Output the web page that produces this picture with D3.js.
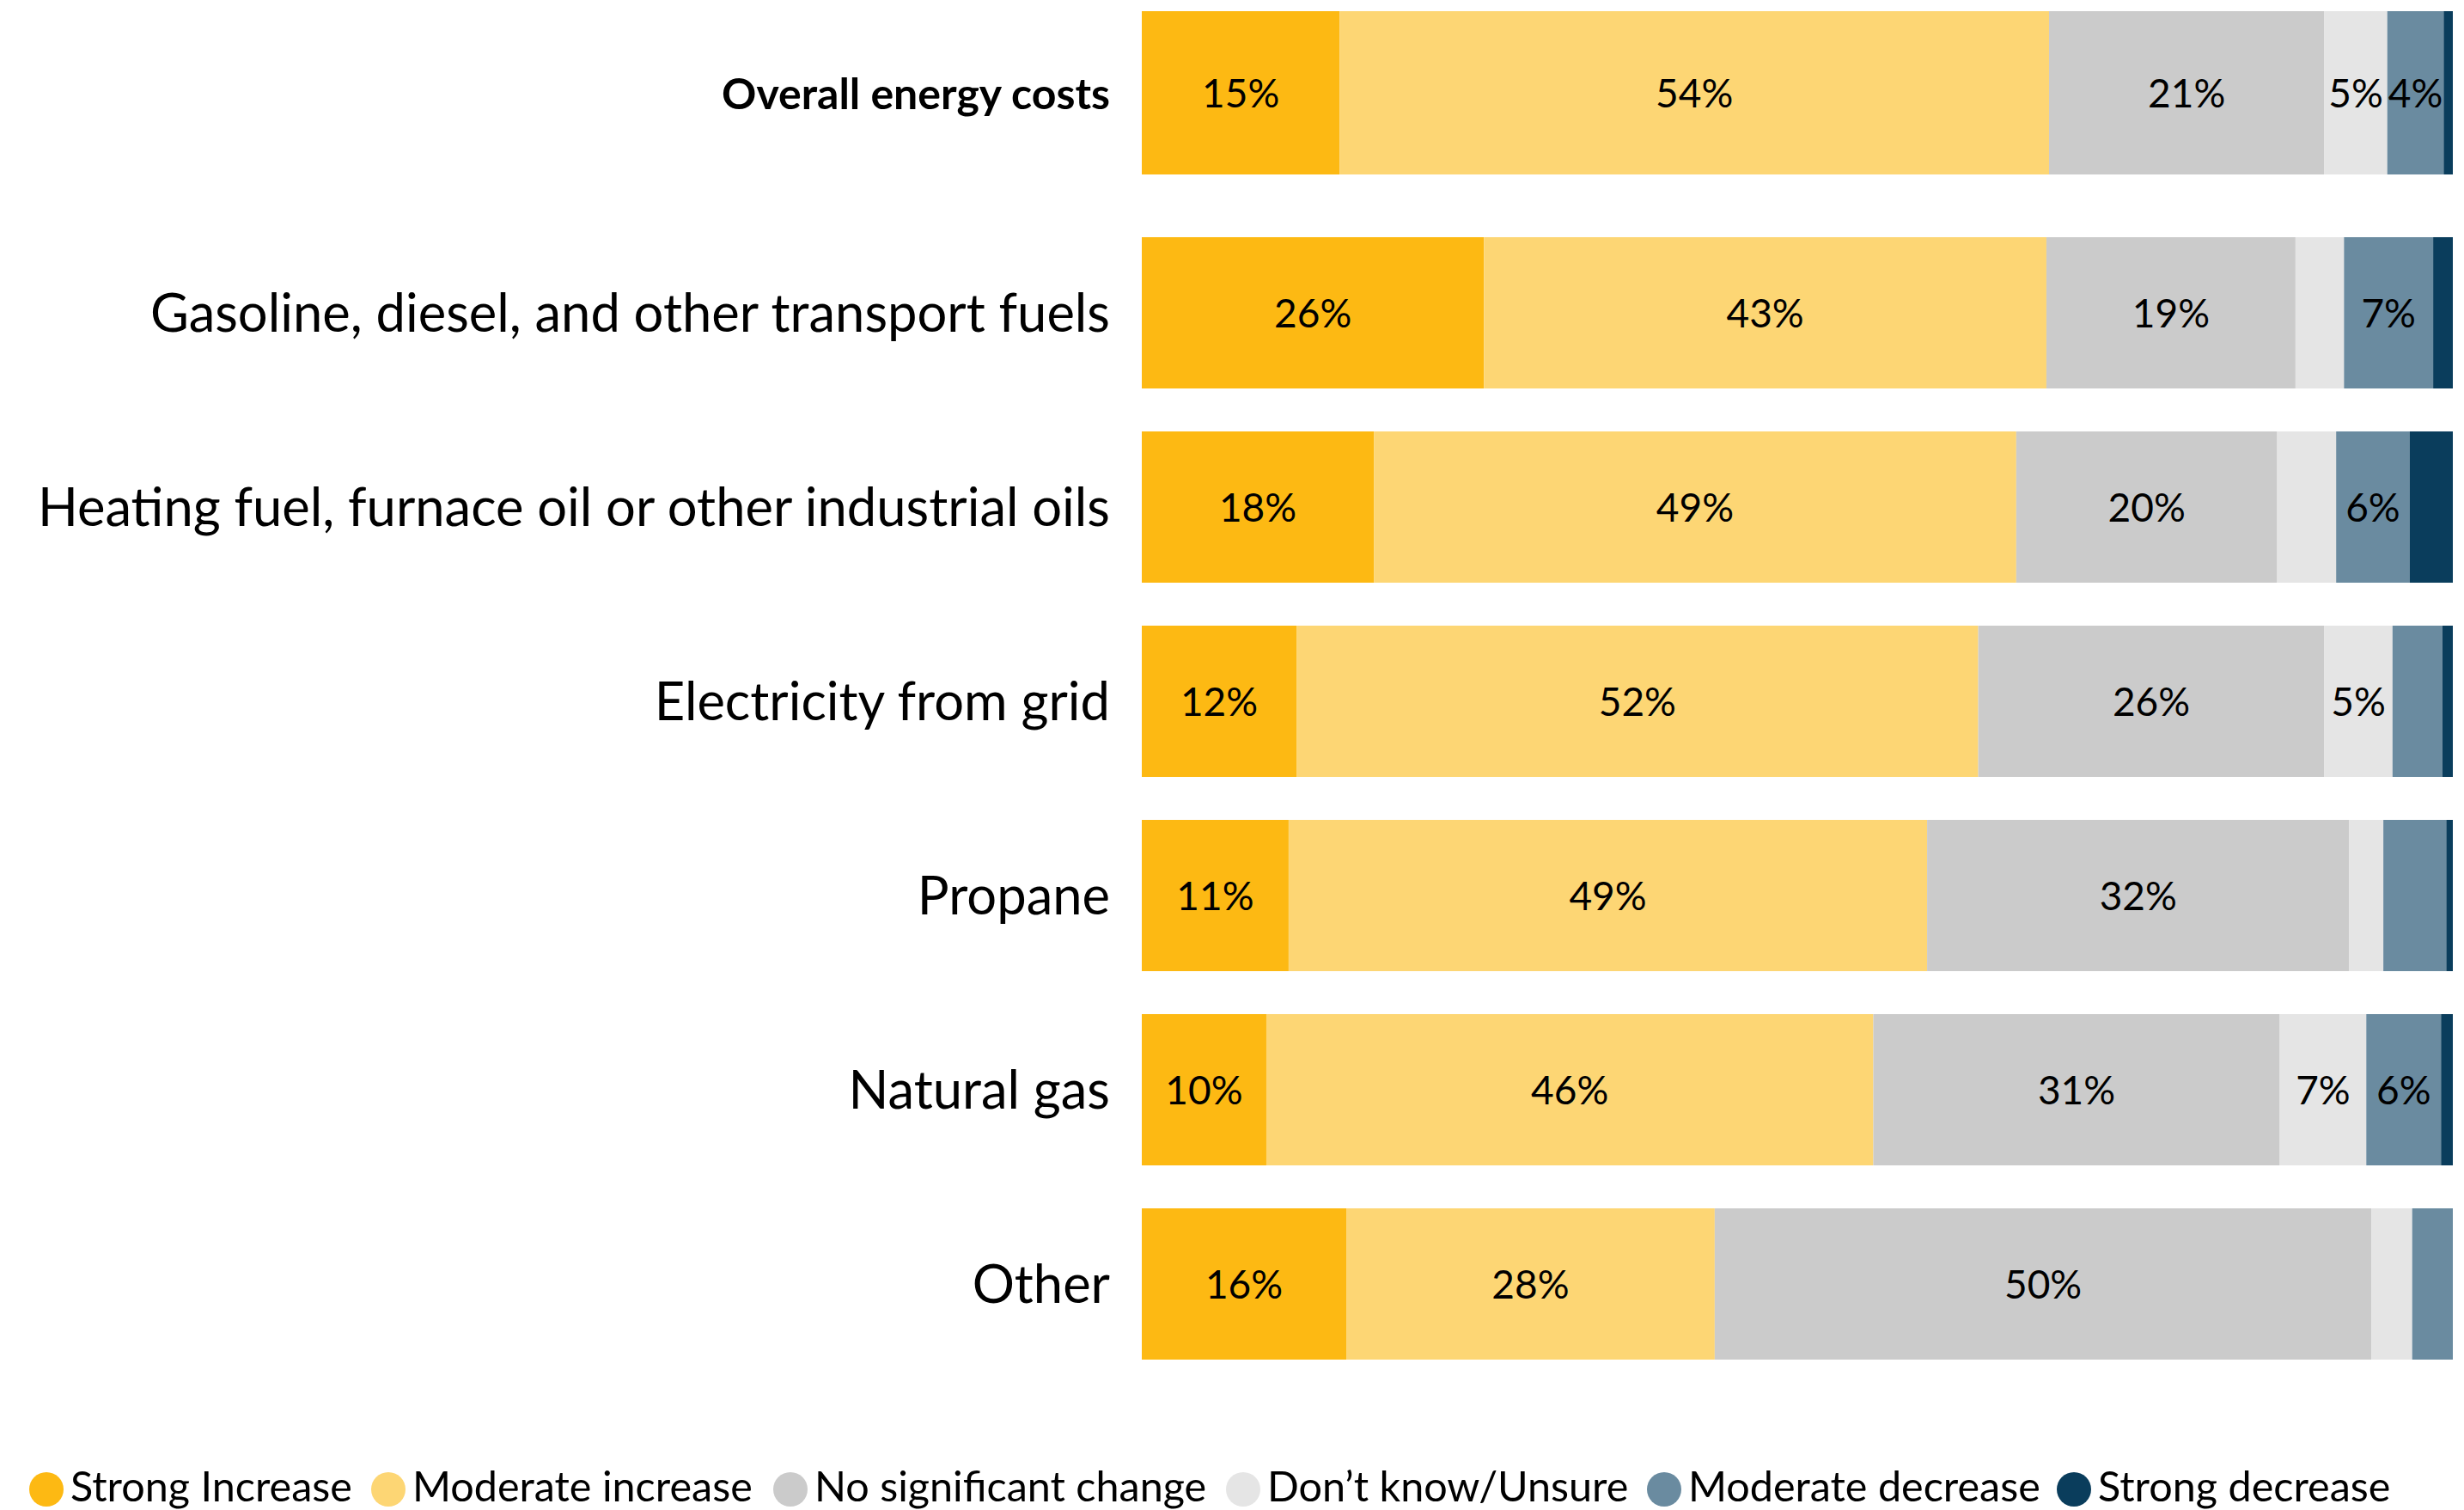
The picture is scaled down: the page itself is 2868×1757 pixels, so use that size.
<!DOCTYPE html>
<html>
<head>
<meta charset="utf-8">
<script src="https://cdn.jsdelivr.net/npm/d3@7"></script>
<style>
  body { margin: 0; background: #fff; }
  svg { display: block; }
  text { font-family: Lato, "Noto Sans", sans-serif; fill: #000; }
</style>
</head>
<body>
<svg id="chart"></svg>
<script>
// response categories (stack order, left to right)
var keys = ["Strong Increase", "Moderate increase", "No significant change",
            "Don\u2019t know/Unsure", "Moderate decrease", "Strong decrease"];
var colors = ["#FDB913", "#FDD674", "#CBCBCB", "#E5E5E5", "#6A8BA0", "#0A3D5C"];

// headline row, drawn as its own block
var overallLabel = "Overall energy costs";
var overallValues = [15.1, 54.1, 21.0, 4.8, 4.3, 0.7];

// rows by energy type
var categories = ["Gasoline, diesel, and other transport fuels",
                  "Heating fuel, furnace oil or other industrial oils",
                  "Electricity from grid", "Propane", "Natural gas", "Other"];
var strongInc   = [26.1, 17.7, 11.8, 11.2, 9.5, 15.6];
var moderateInc = [42.9, 49.0, 52.0, 48.7, 46.3, 28.1];
var noChange    = [19.0, 19.9, 26.4, 32.2, 31.0, 50.1];
var unsure      = [3.7, 4.5, 5.2, 2.6, 6.6, 3.1];
var moderateDec = [6.8, 5.6, 3.8, 4.8, 5.7, 3.1];
var strongDec   = [1.5, 3.3, 0.8, 0.5, 0.9, 0.0];

var W = 2868, H = 1757;
var svg = d3.select("#chart").attr("width", W).attr("height", H);

var x = d3.scaleLinear().domain([0, 100]).range([1329, 2855]);
var color = d3.scaleOrdinal().domain(keys).range(colors);

// build row objects
var rows = categories.map(function (c, i) {
    var r = {name: c};
    [strongInc, moderateInc, noChange, unsure, moderateDec, strongDec].forEach(function (arr, k) {
        r[keys[k]] = arr[i];
    });
    return r;
});
var overallRow = {name: overallLabel};
keys.forEach(function (k, i) { overallRow[k] = overallValues[i]; });

var stack = d3.stack().keys(keys);

function drawBlock(data, y, minLabel, labelFont) {
    var series = stack(data);
    var g = svg.append("g");

    // segments
    var layer = g.selectAll(".layer")
        .data(series)
        .enter().append("g")
        .attr("fill", function (s) { return color(s.key); });

    layer.selectAll("rect")
        .data(function (s) { return s; })
        .enter().append("rect")
        .attr("x", function (d) { return x(d[0]); })
        .attr("y", function (d) { return y(d.data.name); })
        .attr("width", function (d) { return x(d[1]) - x(d[0]); })
        .attr("height", y.bandwidth());

    // percent labels inside segments
    layer.selectAll("text")
        .data(function (s) { return s.filter(function (d) { return d[1] - d[0] >= minLabel; }); })
        .enter().append("text")
        .attr("x", function (d) { return (x(d[0]) + x(d[1])) / 2; })
        .attr("y", function (d) { return y(d.data.name) + y.bandwidth() / 2 + 17; })
        .attr("text-anchor", "middle")
        .style("font-size", "46px")
        .style("fill", "#000")
        .text(function (d) { return Math.round(d[1] - d[0]) + "%"; });

    // row labels
    g.selectAll(".rowlabel")
        .data(data)
        .enter().append("text")
        .attr("class", "rowlabel")
        .attr("x", 1292)
        .attr("y", function (d) { return y(d.name) + y.bandwidth() / 2 + labelFont.dy; })
        .attr("text-anchor", "end")
        .style("font-size", labelFont.size)
        .style("font-weight", labelFont.weight)
        .text(function (d) { return d.name; });
}

// top block
var yTop = d3.scaleBand().domain([overallLabel]).range([13, 203]).padding(0);
drawBlock([overallRow], yTop, 4, {size: "50px", weight: "bold", dy: 19});

// main block
var y = d3.scaleBand().domain(categories)
    .range([251, 1607])
    .paddingInner(0.2212)
    .paddingOuter(0.1106);
drawBlock(rows, y, 5, {size: "61.5px", weight: "normal", dy: 22});

// legend
var legendX = [54, 452, 920, 1447, 1937, 2414];
var legend = svg.append("g")
    .selectAll("g")
    .data(keys)
    .enter().append("g")
    .attr("transform", function (d, i) { return "translate(" + legendX[i] + ",1733)"; });

legend.append("circle")
    .attr("r", 20)
    .attr("fill", function (d) { return color(d); });

legend.append("text")
    .attr("x", 28)
    .attr("y", 14)
    .style("font-size", "48.5px")
    .text(function (d) { return d; });
</script>
</body>
</html>
